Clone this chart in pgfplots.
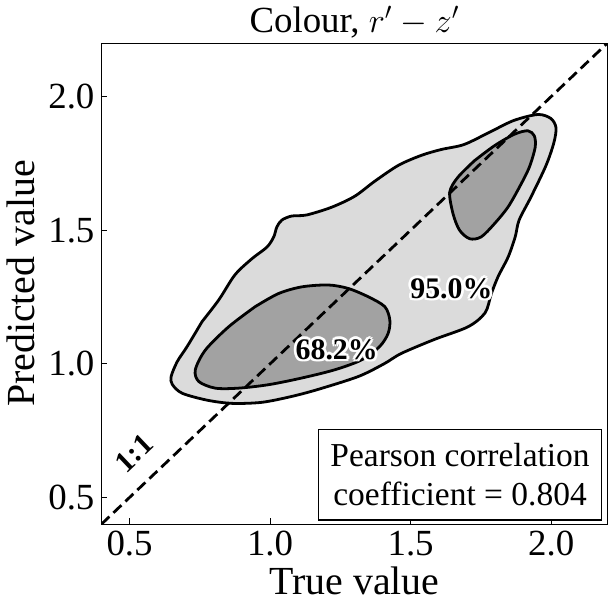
\documentclass[border=0pt]{standalone}
\usepackage{fontspec}
\setmainfont{Liberation Serif}
\usepackage{pgfplots}
\pgfplotsset{compat=1.18}

\definecolor{outerfill}{RGB}{219,219,219}
\definecolor{innerfill}{RGB}{162,162,162}

\tikzset{halo/.style={text=white,font=\fontsize{15}{17}\selectfont\bfseries,inner sep=0pt}}
\newcommand\halolabel[3]{%
  \node[halo,xshift=1.4pt] at (axis cs:#1,#2) {#3};
  \node[halo,xshift=-1.4pt] at (axis cs:#1,#2) {#3};
  \node[halo,yshift=1.4pt] at (axis cs:#1,#2) {#3};
  \node[halo,yshift=-1.4pt] at (axis cs:#1,#2) {#3};
  \node[halo,xshift=1pt,yshift=1pt] at (axis cs:#1,#2) {#3};
  \node[halo,xshift=-1pt,yshift=1pt] at (axis cs:#1,#2) {#3};
  \node[halo,xshift=1pt,yshift=-1pt] at (axis cs:#1,#2) {#3};
  \node[halo,xshift=-1pt,yshift=-1pt] at (axis cs:#1,#2) {#3};
  \node[font=\fontsize{15}{17}\selectfont\bfseries,inner sep=0pt] at (axis cs:#1,#2) {#3};}

\begin{document}
\begin{tikzpicture}
\begin{axis}[
  width=254pt,height=241.5pt,scale only axis,
  xmin=0.4,xmax=2.2,ymin=0.4,ymax=2.2,
  xtick={0.5,1,1.5,2},ytick={0.5,1,1.5,2},
  xtick pos=bottom,ytick pos=left,tick align=inside,major tick length=3pt,
  tick style={line width=0.6pt,black},
  axis line style={line width=0.6pt},
  /pgf/number format/.cd,fixed,fixed zerofill,precision=1,assume math mode=true,/pgfplots/.cd,
  ticklabel style={font=\fontsize{18.5}{21}\selectfont},
  xlabel={True value},ylabel={Predicted value},
  label style={font=\fontsize{20}{23}\selectfont},
  xlabel style={yshift=1.5pt},
  title={Colour, $r' - z'$},
  title style={font=\fontsize{18.5}{22}\selectfont,yshift=-7pt},
  clip=true]

% 95.0% contour
\addplot[fill=outerfill,draw=black,line width=1.4pt,smooth] coordinates {
 (0.758,1.158) (0.818,1.240) (0.875,1.333) (0.935,1.393) (0.989,1.437) (1.013,1.475)
 (1.024,1.512) (1.042,1.538) (1.077,1.553) (1.130,1.557) (1.219,1.586) (1.301,1.627)
 (1.372,1.683) (1.457,1.743) (1.538,1.780) (1.609,1.802) (1.691,1.821) (1.787,1.870)
 (1.868,1.911) (1.953,1.933) (1.999,1.918) (2.017,1.884) (2.010,1.829) (1.982,1.743)
 (1.928,1.624) (1.886,1.538) (1.872,1.475) (1.847,1.400) (1.811,1.326) (1.787,1.262)
 (1.765,1.191) (1.705,1.139) (1.584,1.091) (1.467,1.039) (1.407,1.001) (1.315,0.953)
 (1.173,0.905) (1.077,0.878) (0.971,0.856) (0.865,0.852) (0.776,0.864) (0.687,0.890)
 (0.652,0.923) (0.648,0.953) (0.670,1.009) (0.705,1.065) (0.758,1.158)} -- cycle;

% 68.2% contours
\addplot[fill=innerfill,draw=black,line width=1.4pt,smooth] coordinates {
 (0.947,1.214) (1.030,1.263) (1.113,1.288) (1.207,1.295) (1.278,1.282) (1.349,1.251)
 (1.408,1.214) (1.426,1.164) (1.420,1.114) (1.390,1.065) (1.326,1.015) (1.231,0.978)
 (1.113,0.947) (0.995,0.922) (0.888,0.909) (0.805,0.909) (0.746,0.934) (0.734,0.978)
 (0.770,1.052) (0.853,1.139) (0.947,1.214)} -- cycle;
\addplot[fill=innerfill,draw=black,line width=1.4pt,smooth] coordinates {
 (1.727,1.760) (1.798,1.816) (1.869,1.859) (1.917,1.872) (1.940,1.853) (1.943,1.810)
 (1.922,1.735) (1.887,1.661) (1.846,1.586) (1.798,1.524) (1.751,1.475) (1.710,1.468)
 (1.674,1.500) (1.651,1.561) (1.639,1.642) (1.668,1.698) (1.727,1.760)} -- cycle;

% 1:1 line
\addplot[black,line width=1.4pt,dash pattern=on 5.5pt off 2.8pt] coordinates {(0.4,0.4) (2.2,2.2)};

\halolabel{1.237}{1.054}{68.2\%}
\halolabel{1.645}{1.282}{95.0\%}

\node[font=\fontsize{15}{17}\selectfont\bfseries,rotate=43.6,inner sep=0pt] at (axis cs:0.515,0.665) {1:1};

\node[draw,line width=0.7pt,fill=white,align=center,anchor=south east,
      inner xsep=6pt,inner ysep=7pt,font=\fontsize{16.8}{19.5}\selectfont]
  at (rel axis cs:0.99,0.007) {Pearson correlation\\coefficient = 0.804};
\end{axis}
\end{tikzpicture}
\end{document}
